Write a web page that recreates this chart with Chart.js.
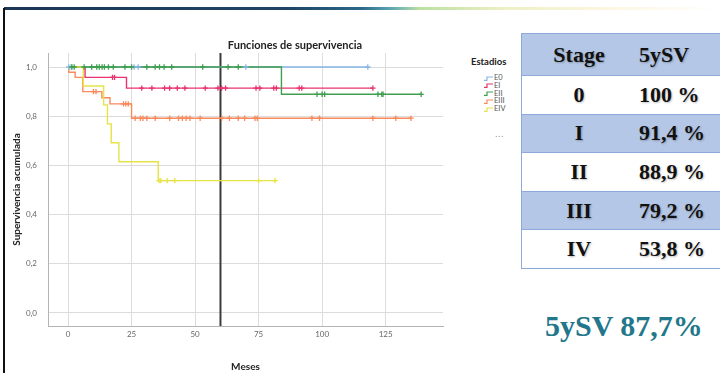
<!DOCTYPE html>
<html>
<head>
<meta charset="utf-8">
<script src="https://cdn.jsdelivr.net/npm/chart.js@4/dist/chart.umd.min.js"></script>
<style>
  body { margin: 0; width: 720px; height: 373px; overflow: hidden; background: #fff; position: relative; font-family: Lato, sans-serif; }
  #topBar { position: absolute; left: 4px; top: 7px; width: 716px; height: 3px;
    background: linear-gradient(90deg, #1b3656 0%, #1f4566 40%, #2a6a88 50%, #5aa6b4 54%, #b9dfa2 58%, #eef0c4 70%, #fdf6e2 85%, #ffffff 100%); }
  #leftRule { position: absolute; left: 3px; top: 8px; width: 2px; height: 365px; background: #111; }
  #chartBox { position: absolute; left: 0; top: 0; width: 460px; height: 373px; }
  #legend { position: absolute; left: 0; top: 0; }
  .legTitle { position: absolute; left: 471px; top: 56px; font: bold 9.5px Lato, sans-serif; color: #222; }
  .legItem { position: absolute; left: 484px; font: 7.5px Lato, sans-serif; color: #555; white-space: nowrap; line-height: 8px; }
  .legItem svg { vertical-align: middle; margin-right: 1px; }
  .legDots { position: absolute; left: 495px; top: 130px; font: 8px "DejaVu Sans", sans-serif; color: #888; letter-spacing: 0.5px; }
  table { position: absolute; left: 521px; top: 33px; width: 215px; border-collapse: collapse;
    font-family: "Liberation Serif", "Times New Roman", serif; font-weight: bold; font-size: 22px; color: #111; }
  tr { border: 1.5px solid #8eaadb; }
  td { padding: 0; text-shadow: 1px 1px 2px rgba(0,0,0,0.25); }
  td.c1 { width: 114px; text-align: center; }
  td.c2 { text-align: left; padding-left: 3px; }
  tr.blue { background: #b4c7e7; }
  #summary { position: absolute; left: 545px; top: 311px; font: bold 30px "Liberation Serif", serif; line-height: 30px; color: #23778b; white-space: nowrap; }
</style>
</head>
<body>
<div id="topBar"></div>
<div id="leftRule"></div>
<div id="chartBox"><canvas id="kmChart" width="460" height="373"></canvas></div>
<div id="legend"></div>
<table id="svTable"></table>
<div id="summary">5ySV 87,7%</div>
<script>
// Kaplan-Meier curves (months, cumulative survival)
const stageNames = ["E0", "EI", "EII", "EIII", "EIV"];
const stageColors = ["#86b6e6", "#e8336e", "#3f9f4f", "#f98a5c", "#e6e345"];

// step points: time of each event and survival after it, last point = end of follow-up
const e0Time = [0, 118];
const e0Surv = [1.0, 1.0];
const e1Time = [0, 6.7, 23, 120];
const e1Surv = [1.0, 0.958, 0.914, 0.914];
const e2Time = [0, 84, 139];
const e2Surv = [1.0, 0.889, 0.889];
const e3Time = [0, 0.3, 2.8, 5.8, 13.3, 16.5, 25, 135];
const e3Surv = [1.0, 0.979, 0.958, 0.90, 0.875, 0.85, 0.792, 0.792];
const e4Time = [0, 6, 14, 15.5, 17, 20, 35.5, 81.5];
const e4Surv = [1.0, 0.923, 0.846, 0.769, 0.692, 0.615, 0.538, 0.538];

// censored cases (the little crosses)
const e0Cens = [0.3, 1.2, 26, 27.6, 70, 118];
const e1Cens = [17.5, 18.3, 29, 33, 38, 40, 43, 46, 54, 59, 60.5, 62, 74, 75.5, 81, 82, 91, 92, 120];
const e2Cens = [1.5, 2.4, 6.3, 9.3, 11.3, 12.3, 13.4, 14.3, 15.9, 17.8, 22.4, 25, 31, 34.3, 36, 37.8, 40.8, 53, 63, 67, 98, 100, 101, 122, 123.5, 124, 139];
const e3Cens = [10, 11, 21.8, 22.7, 23.7, 26.4, 28.5, 29.5, 31, 34.3, 40, 43.5, 45, 46.5, 48, 52, 60.5, 63.5, 67, 69.5, 73.6, 74.5, 96, 99, 120, 129, 135];
const e4Cens = [35.8, 36.5, 39, 42, 75, 81.5];

const xTicks = [0, 25, 50, 75, 100, 125];
const yTicks = [0, 0.2, 0.4, 0.6, 0.8, 1.0];
const cutoffMonth = 60;

// table on the right
const tableStages = ["0", "I", "II", "III", "IV"];
const tableValues = ["100 %", "91,4 %", "88,9 %", "79,2 %", "53,8 %"];

const allTimes = [e0Time, e1Time, e2Time, e3Time, e4Time];
const allSurv = [e0Surv, e1Surv, e2Surv, e3Surv, e4Surv];
const allCens = [e0Cens, e1Cens, e2Cens, e3Cens, e4Cens];

// survival value of a curve at time t (to put the censor mark on the line)
function survAt(times, surv, t) {
  let s = surv[0];
  for (let i = 0; i < times.length; i++) {
    if (times[i] <= t) s = surv[i];
  }
  return s;
}

// draw order: green above blue at 1,0
const lineOrder = [5, 3, 2, 4, 1];
const datasets = [];
for (let i = 0; i < stageNames.length; i++) {
  datasets.push({
    label: stageNames[i],
    data: allTimes[i].map((t, k) => ({ x: t, y: allSurv[i][k] })),
    borderColor: stageColors[i],
    borderWidth: 1.4,
    pointRadius: 0,
    stepped: true,
    fill: false,
    order: lineOrder[i] + 5,
  });
  datasets.push({
    label: stageNames[i] + " censurado",
    data: allCens[i].map((t) => ({ x: t, y: survAt(allTimes[i], allSurv[i], t) })),
    borderColor: stageColors[i],
    backgroundColor: stageColors[i],
    showLine: false,
    pointStyle: "cross",
    pointRadius: 2.7,
    pointBorderWidth: 1.3,
    order: lineOrder[i],
  });
}

const extras = {
  id: "extras",
  beforeDatasetsDraw(chart) {
    const { ctx, chartArea, scales } = chart;
    const x = scales.x.getPixelForValue(cutoffMonth);
    ctx.save();
    ctx.strokeStyle = "#3c3c3c";
    ctx.lineWidth = 2;
    ctx.beginPath();
    ctx.moveTo(x, chartArea.top);
    ctx.lineTo(x, chartArea.bottom);
    ctx.stroke();
    ctx.restore();
  },
  afterDraw(chart) {
    const ctx = chart.ctx;
    ctx.save();
    ctx.fillStyle = "#222";
    ctx.font = "bold 11px Lato";
    ctx.textAlign = "center";
    ctx.textBaseline = "middle";
    ctx.fillText("Funciones de supervivencia", 295, 45);
    ctx.restore();
  },
};

new Chart(document.getElementById("kmChart"), {
  type: "line",
  data: { datasets: datasets },
  plugins: [extras],
  options: {
    responsive: false,
    animation: false,
    layout: { padding: { top: 53, right: 17, left: 0, bottom: 0 } },
    plugins: { legend: { display: false }, tooltip: { enabled: false } },
    scales: {
      x: {
        type: "linear",
        min: -7.9,
        max: 147.6,
        afterBuildTicks: (axis) => { axis.ticks = xTicks.map((v) => ({ value: v })); },
        afterFit: (axis) => { axis.height = 47; },
        grid: { color: "#dcdcdc", drawTicks: false },
        border: { color: "#b4b4b4" },
        ticks: { padding: 4, color: "#666", font: { family: "Lato", size: 8 }, maxRotation: 0 },
        title: { display: true, text: "Meses", color: "#222", font: { family: "Lato", size: 10, weight: "bold" }, padding: { top: 0, bottom: 0 } },
      },
      y: {
        min: -0.053,
        max: 1.057,
        afterBuildTicks: (axis) => { axis.ticks = yTicks.map((v) => ({ value: v })); },
        afterFit: (axis) => { axis.width = 48; },
        grid: { color: "#dcdcdc", drawTicks: false },
        border: { color: "#b4b4b4" },
        ticks: {
          padding: 11,
          color: "#666",
          font: { family: "Lato", size: 8 },
          callback: (v) => v.toFixed(1).replace(".", ","),
        },
        title: { display: true, text: "Supervivencia acumulada", color: "#222", font: { family: "Lato", size: 10, weight: "bold" }, padding: { top: 11, bottom: 0 } },
      },
    },
  },
});

// legend (Estadios)
const legend = document.getElementById("legend");
const legTitle = document.createElement("div");
legTitle.className = "legTitle";
legTitle.innerText = "Estadios";
legend.append(legTitle);
for (let i = 0; i < stageNames.length; i++) {
  const item = document.createElement("div");
  item.className = "legItem";
  item.style.top = (74 + i * 7.8) + "px";
  item.innerHTML = `<svg width="9" height="5"><path d="M0 4.3 H3 V1 H9" fill="none" stroke="${stageColors[i]}" stroke-width="1.2"/></svg>${stageNames[i]}`;
  legend.append(item);
}
const dots = document.createElement("div");
dots.className = "legDots";
dots.innerText = "...";
legend.append(dots);

// 5 year survival table
const svTable = document.getElementById("svTable");
const header = document.createElement("tr");
header.className = "blue";
header.style.height = "42px";
header.innerHTML = `<td class="c1">Stage</td><td class="c2">5ySV</td>`;
svTable.append(header);
for (let i = 0; i < tableStages.length; i++) {
  const row = document.createElement("tr");
  row.style.height = "38.6px";
  if (i % 2 === 1) row.className = "blue";
  row.innerHTML = `<td class="c1">${tableStages[i]}</td><td class="c2">${tableValues[i]}</td>`;
  svTable.append(row);
}
</script>
</body>
</html>
